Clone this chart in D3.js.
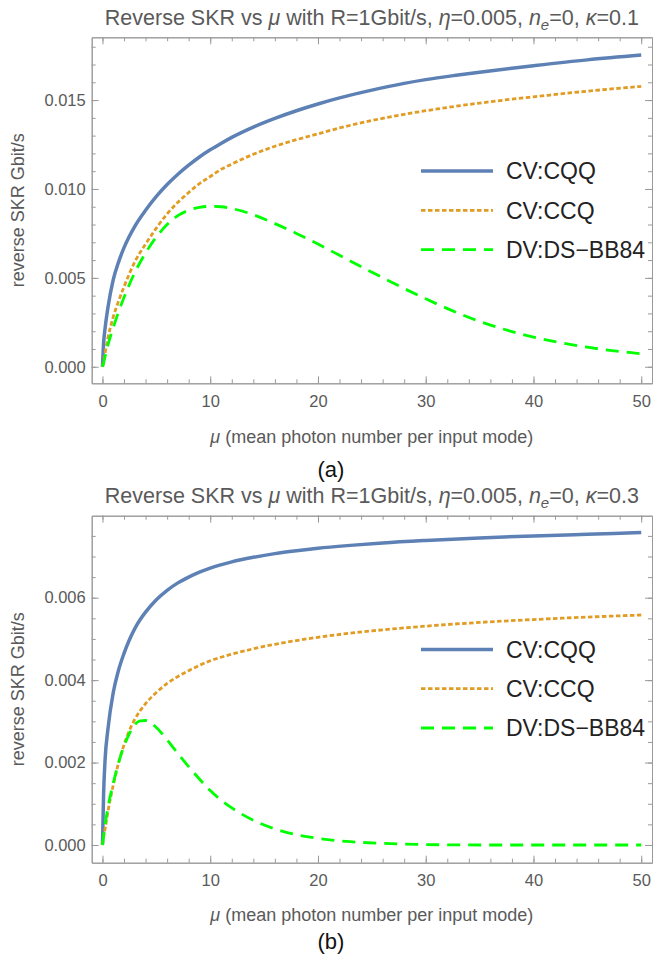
<!DOCTYPE html>
<html><head><meta charset="utf-8">
<script src="https://cdn.jsdelivr.net/npm/d3@7"></script>
<style>
body{margin:0;background:#fff;}
svg{display:block;font-family:"Liberation Sans",Arial,sans-serif;}
</style></head>
<body>
<svg id="chart" width="662" height="957"></svg>
<script>
// ---------- data ----------
const muA = [0, 0.1, 0.25, 0.5, 1, 1.5, 2, 3, 4, 5, 6, 7, 8, 9, 10, 11, 12, 14, 16, 18, 20, 22, 25, 28, 30, 33, 35, 38, 40, 45, 50];
const cqqA = [0, 0.0013, 0.0022, 0.0033, 0.0049, 0.0059, 0.0067, 0.0079, 0.0088, 0.00958, 0.01025, 0.01083, 0.01134, 0.01180, 0.01220, 0.01256, 0.01290, 0.01348, 0.01397, 0.01440, 0.01478, 0.01512, 0.01556, 0.01594, 0.01615, 0.01641, 0.01657, 0.01679, 0.01693, 0.01726, 0.01753];
const ccqA = [0, 0.0003, 0.0008, 0.0016, 0.0028, 0.0037, 0.0045, 0.0059, 0.0069, 0.0078, 0.0086, 0.00925, 0.0098, 0.0103, 0.0107, 0.0111, 0.0114, 0.01195, 0.0124, 0.01277, 0.01310, 0.01343, 0.01385, 0.01420, 0.01440, 0.01467, 0.01483, 0.01505, 0.01518, 0.01550, 0.01577];
const bb84A = [0, 0.0002, 0.0006, 0.0012, 0.0022, 0.0031, 0.0039, 0.0053, 0.0064, 0.0073, 0.0080, 0.0085, 0.0088, 0.00897, 0.00902, 0.00900, 0.00890, 0.00855, 0.00805, 0.00750, 0.00690, 0.00627, 0.00532, 0.00440, 0.00382, 0.00302, 0.00255, 0.00198, 0.00167, 0.00110, 0.00073];

const muB = [0, 0.1, 0.25, 0.5, 1, 1.5, 2, 2.5, 3, 3.5, 4, 5, 6, 7, 8, 9, 10, 12, 14, 16, 18, 20, 23, 26, 30, 35, 40, 45, 50];
const cqqB = [0, 0.0012, 0.0021, 0.0028, 0.0037, 0.00425, 0.00465, 0.00498, 0.00525, 0.00547, 0.00565, 0.00595, 0.00618, 0.00636, 0.00650, 0.00662, 0.00672, 0.00687, 0.00698, 0.00707, 0.00714, 0.00720, 0.00727, 0.00733, 0.00739, 0.00745, 0.00750, 0.00754, 0.00758];
const ccqB = [0, 0.0002, 0.0004, 0.0008, 0.00145, 0.0020, 0.00243, 0.00278, 0.00305, 0.00326, 0.00343, 0.00370, 0.00392, 0.00409, 0.00423, 0.00436, 0.00447, 0.00463, 0.00476, 0.00487, 0.00496, 0.00504, 0.00514, 0.00522, 0.00531, 0.00540, 0.00547, 0.00553, 0.00558];
const bb84B = [0, 0.0002, 0.0005, 0.0009, 0.0015, 0.0020, 0.0024, 0.0027, 0.00292, 0.00301, 0.00302, 0.00285, 0.00255, 0.00222, 0.00190, 0.00160, 0.00132, 0.00090, 0.00060, 0.00039, 0.00025, 0.00016, 0.00008, 0.00004, 0.00001, 0, 0, 0, 0];

const seriesNames = ["CV:CQQ", "CV:CCQ", "DV:DS\u2212BB84"];
const xTickLabels = [0, 10, 20, 30, 40, 50];
const yTicksA = [0, 0.005, 0.010, 0.015];
const yTicksB = [0, 0.002, 0.004, 0.006];
const kappas = ["0.1", "0.3"];
const captions = ["(a)", "(b)"];

// ---------- styles ----------
const colors = ["#5E81B5", "#E19C24", "#00FF00"];
const widths = [3.5, 2.8, 2.8];
const dashes = [null, "4.5,2.5", "13,8"];
const grayText = "#5a5a5a";
const frameCol = "#9a9a9a";

const svg = d3.select("#chart");
svg.append("rect").attr("width", 662).attr("height", 957).attr("fill", "#fff");

const panels = [
  {mu: muA, series: [cqqA, ccqA, bb84A], yTicks: yTicksA, yMinor: 0.001, yDom: [-0.00093, 0.01853],
   top: 37.3, bottom: 383.3, kappa: kappas[0], caption: captions[0], off: 0, capY: 477},
  {mu: muB, series: [cqqB, ccqB, bb84B], yTicks: yTicksB, yMinor: 0.0005, yDom: [-0.00043, 0.00799],
   top: 515.7, bottom: 862.7, kappa: kappas[1], caption: captions[1], off: 478.4, capY: 949}
];

const left = 91.7, right = 652;

panels.forEach((p, pi) => {
  const g = svg.append("g");
  const x = d3.scaleLinear().domain([-1, 51]).range([left, right]);
  const y = d3.scaleLinear().domain(p.yDom).range([p.bottom, p.top]);

  const xMinor = d3.range(0, 50.001, 2);
  const yMinorVals = d3.range(0, p.yDom[1], p.yMinor).map(v => +v.toFixed(6));

  const fmt = d3.format(".3f");
  const axes = [
    [d3.axisBottom(x).tickValues(xMinor).tickSize(-4).tickFormat(""), `translate(0,${p.bottom})`],
    [d3.axisTop(x).tickValues(xMinor).tickSize(-4).tickFormat(""), `translate(0,${p.top})`],
    [d3.axisLeft(y).tickValues(yMinorVals).tickSize(-4).tickFormat(""), `translate(${left},0)`],
    [d3.axisRight(y).tickValues(yMinorVals).tickSize(-4).tickFormat(""), `translate(${right},0)`],
    [d3.axisTop(x).tickValues(xTickLabels).tickSize(-7).tickFormat(""), `translate(0,${p.top})`],
    [d3.axisRight(y).tickValues(p.yTicks).tickSize(-7).tickFormat(""), `translate(${right},0)`]
  ];
  axes.forEach(([ax, tr]) => {
    const a = g.append("g").attr("transform", tr).call(ax.tickSizeOuter(0));
    a.select(".domain").attr("stroke", frameCol);
    a.selectAll(".tick line").attr("stroke", frameCol);
  });
  const xa = g.append("g").attr("transform", `translate(0,${p.bottom})`)
    .call(d3.axisBottom(x).tickValues(xTickLabels).tickSize(-7).tickSizeOuter(0).tickPadding(12));
  xa.select(".domain").attr("stroke", frameCol);
  xa.selectAll(".tick line").attr("stroke", frameCol);
  xa.selectAll(".tick text").attr("fill", grayText).attr("font-size", 16.5)
    .attr("font-family", "Liberation Sans, Arial, sans-serif");
  const ya = g.append("g").attr("transform", `translate(${left},0)`)
    .call(d3.axisLeft(y).tickValues(p.yTicks).tickSize(-7).tickSizeOuter(0).tickPadding(6).tickFormat(fmt));
  ya.select(".domain").attr("stroke", frameCol);
  ya.selectAll(".tick line").attr("stroke", frameCol);
  ya.selectAll(".tick text").attr("fill", grayText).attr("font-size", 16.5)
    .attr("font-family", "Liberation Sans, Arial, sans-serif");

  const cid = "clip" + pi;
  svg.append("clipPath").attr("id", cid).append("rect")
    .attr("x", left).attr("y", p.top).attr("width", right - left).attr("height", p.bottom - p.top);

  const line = d3.line().x(d => x(d[0])).y(d => y(d[1])).curve(d3.curveMonotoneX);
  p.series.forEach((s, si) => {
    const pts = p.mu.map((m, i) => [m, s[i]]);
    g.append("path").attr("clip-path", `url(#${cid})`)
      .attr("d", line(pts)).attr("fill", "none")
      .attr("stroke", colors[si]).attr("stroke-width", widths[si])
      .attr("stroke-dasharray", dashes[si]);
  });

  // legend
  const ly0 = 171 + p.off;
  seriesNames.forEach((n, si) => {
    const ly = ly0 + si * 39.3;
    g.append("line").attr("x1", 421).attr("x2", 493).attr("y1", ly).attr("y2", ly)
      .attr("stroke", colors[si]).attr("stroke-width", widths[si]).attr("stroke-dasharray", dashes[si]);
    g.append("text").attr("x", 506).attr("y", ly).attr("dy", "0.36em")
      .attr("font-size", 23).attr("fill", "#222").text(n);
  });

  // title
  const cx = (left + right) / 2;
  const t = g.append("text").attr("x", cx).attr("y", 25 + p.off).attr("text-anchor", "middle")
    .attr("font-size", 21.5).attr("fill", grayText);
  t.append("tspan").text("Reverse SKR vs ");
  t.append("tspan").attr("font-style", "italic").text("\u03BC");
  t.append("tspan").text(" with R=1Gbit/s, ");
  t.append("tspan").attr("font-style", "italic").text("\u03B7");
  t.append("tspan").text("=0.005, ");
  t.append("tspan").attr("font-style", "italic").text("n");
  t.append("tspan").attr("font-style", "italic").attr("font-size", 15).attr("dy", 5).text("e");
  t.append("tspan").attr("dy", -5).text("=0, ");
  t.append("tspan").attr("font-style", "italic").text("\u03BA");
  t.append("tspan").text("=" + p.kappa);

  // y label
  g.append("text").attr("transform", `translate(18,${(p.top + p.bottom) / 2}) rotate(-90)`)
    .attr("text-anchor", "middle").attr("dy", "0.35em").attr("font-size", 18).attr("fill", grayText)
    .text("reverse SKR Gbit/s");

  // x label
  const xl = g.append("text").attr("x", cx).attr("y", 443 + p.off).attr("text-anchor", "middle")
    .attr("font-size", 18).attr("fill", grayText);
  xl.append("tspan").attr("font-style", "italic").text("\u03BC");
  xl.append("tspan").text(" (mean photon number per input mode)");

  // caption
  g.append("text").attr("x", 331).attr("y", p.capY).attr("text-anchor", "middle")
    .attr("font-size", 22).attr("fill", "#111").text(p.caption);
});
</script>
</body></html>
